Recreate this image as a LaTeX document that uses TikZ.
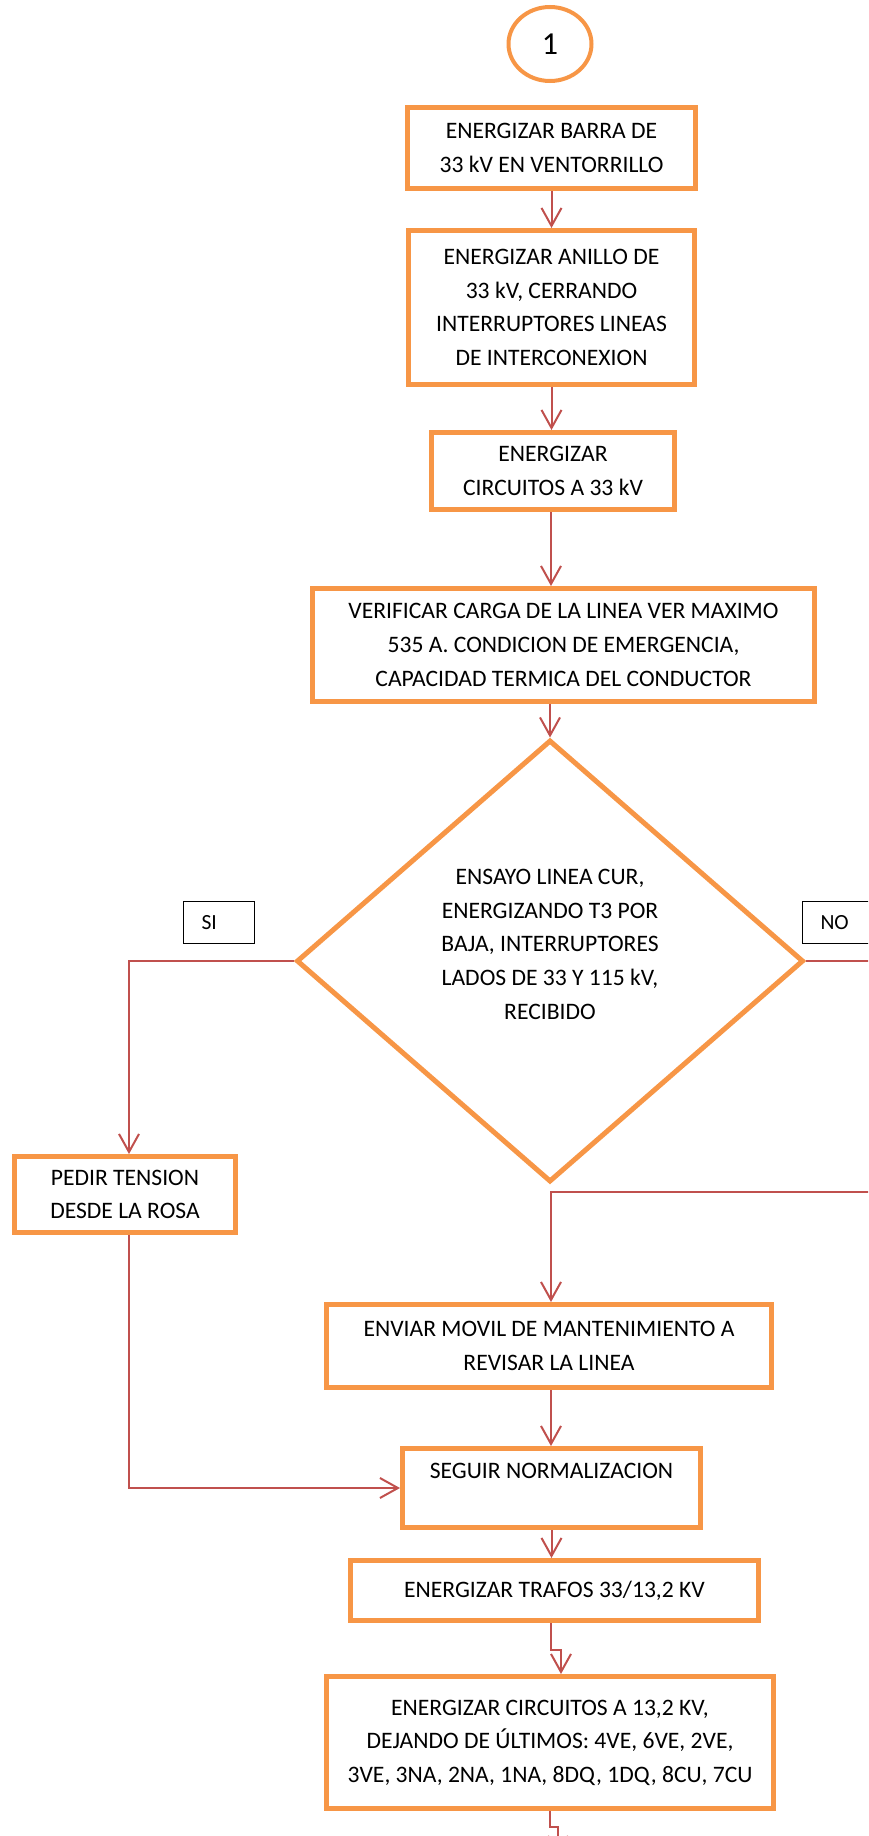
\documentclass[tikz,border=0pt]{standalone}
\usepackage{fontspec}
\setmainfont{Carlito}
\usetikzlibrary{shapes.geometric,arrows.meta}
\definecolor{boxorange}{HTML}{F79646}
\definecolor{linkred}{HTML}{C0504D}
\begin{document}
\begin{tikzpicture}[x=0.5pt, y=-0.5pt,
    font=\fontsize{11.8}{16.8}\selectfont,
    stepbox/.style={draw=boxorange, line width=2.5pt, align=center, inner sep=0pt},
    decision/.style={diamond, draw=boxorange, line width=2.5pt, align=center, inner sep=0pt},
    tag/.style={draw=black, line width=0.7pt, minimum width=35.5pt, minimum height=21pt,
        inner xsep=9pt, text width=17.5pt, align=left, font=\fontsize{10.8}{12}\selectfont},
    link/.style={draw=linkred, line width=1pt, -{Straight Barb[length=9pt,width=10pt]}}]
    \useasboundingbox (0,0) rectangle (868,1836);
    \clip (0,0) rectangle (868,1836);

    \node[ellipse, draw=boxorange, line width=2pt, minimum width=41.5pt, minimum height=37pt,
        inner sep=0pt, font=\fontsize{16}{18}\selectfont] (start) at (550,44) {1};
    \node[stepbox, minimum width=144pt, minimum height=40.5pt] (barra) at (551.5,148)
        {ENERGIZAR BARRA DE\\33 kV EN VENTORRILLO};
    \node[stepbox, minimum width=143pt, minimum height=77pt] (anillo) at (551.5,307.5)
        {ENERGIZAR ANILLO DE\\33 kV, CERRANDO\\INTERRUPTORES LINEAS\\DE INTERCONEXION};
    \node[stepbox, minimum width=121.5pt, minimum height=38.5pt] (circ33) at (553,471)
        {ENERGIZAR\\CIRCUITOS A 33 kV};
    \node[stepbox, minimum width=251pt, minimum height=56.5pt] (carga) at (563.5,645)
        {VERIFICAR CARGA DE LA LINEA VER MAXIMO\\535 A. CONDICION DE EMERGENCIA,\\CAPACIDAD TERMICA DEL CONDUCTOR};
    \node[decision, minimum width=253.5pt, minimum height=221pt] (ensayo) at (550,961)
        {ENSAYO LINEA CUR,\\ENERGIZANDO T3 POR\\BAJA, INTERRUPTORES\\LADOS DE 33 Y 115 kV,\\RECIBIDO\\\mbox{}};
    \node[tag] (si) at (219,922.5) {SI};
    \node[tag] (no) at (838,922.5) {NO};
    \node[stepbox, minimum width=110.5pt, minimum height=38pt] (pedir) at (125,1194.5)
        {PEDIR TENSION\\DESDE LA ROSA};
    \node[stepbox, minimum width=222.5pt, minimum height=41.5pt] (movil) at (549,1346)
        {ENVIAR MOVIL DE MANTENIMIENTO A\\REVISAR LA LINEA};
    \node[stepbox, minimum width=149pt, minimum height=39.5pt] (seguir) at (551.5,1488)
        {SEGUIR NORMALIZACION\\\mbox{}};
    \node[stepbox, minimum width=204pt, minimum height=30pt] (trafos) at (554.5,1590.5)
        {ENERGIZAR TRAFOS 33/13,2 KV};
    \node[stepbox, minimum width=223.5pt, minimum height=66pt] (circ13) at (550,1742.5)
        {ENERGIZAR CIRCUITOS A 13,2 KV,\\DEJANDO DE ÚLTIMOS: 4VE, 6VE, 2VE,\\3VE, 3NA, 2NA, 1NA, 8DQ, 1DQ, 8CU, 7CU};

    \coordinate (offright) at (900,1192);
    \coordinate (offbottom) at (558,1856);

    \draw[link] (barra) -- (anillo);
    \draw[link] (anillo.south) -- (anillo.south |- circ33.north);
    \draw[link] ([xshift=-1pt]circ33.south) -- ([xshift=-1pt]circ33.south |- carga.north);
    \draw[link] (ensayo.north |- carga.south) -- (ensayo.north);
    \draw[link] (ensayo.west) -| ([xshift=2pt]pedir.north);
    \draw[link] ([xshift=2pt]pedir.south) |- (seguir.west);
    \draw[link] (ensayo.east) -| (offright) -| ([xshift=1pt]movil.north);
    \draw[link] ([xshift=1pt]movil.south) -- ([xshift=1pt]movil.south |- seguir.north);
    \draw[link] (seguir.south) -- (seguir.south |- trafos.north);
    \draw[link] ([xshift=-1.75pt]trafos.south) -- ++(0,27) -| ([xshift=5.5pt]circ13.north);
    \draw[link] (circ13.south) -- ++(0,16) -| (offbottom);
\end{tikzpicture}
\end{document}
